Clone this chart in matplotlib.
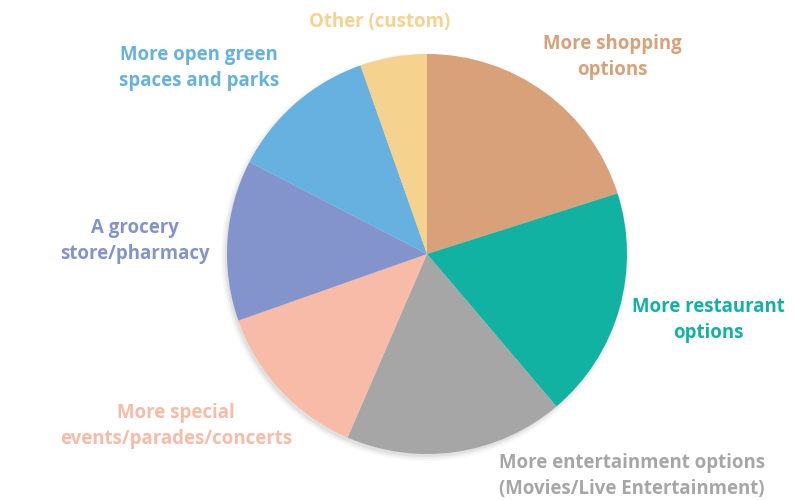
import matplotlib.pyplot as plt
from matplotlib.patches import Circle

labels = ["More shopping\noptions", "More restaurant\noptions",
          "More entertainment options\n(Movies/Live Entertainment)",
          "More special\nevents/parades/concerts", "A grocery\nstore/pharmacy",
          "More open green\nspaces and parks", "Other (custom)"]
values = [20.1, 18.7, 17.7, 13.1, 13.0, 12.0, 5.4]
colors = ["#D9A179", "#12B2A3", "#A6A6A6", "#F8BBA7", "#8394CD", "#67B1E1", "#F5D38F"]

# label centers, pixel offsets from the pie centre
label_pos = [(185, 197), (281, -66), (205, -222), (-251, -172), (-292, 13), (-228, 186), (-47, 232)]

fig = plt.figure(figsize=(8.05, 5), dpi=100)
ax = fig.add_axes([0, 0, 1, 1])

# soft shadow under the pie
for r, a in [(204, 0.05), (202, 0.08), (200, 0.12)]:
    ax.add_patch(Circle((-2, -3), r, color="gray", alpha=a, lw=0, zorder=0))

ax.pie(values, colors=colors, radius=200, startangle=90, counterclock=False,
       wedgeprops=dict(linewidth=0, zorder=1))
ax.set_xlim(-427, 378)
ax.set_ylim(-246, 254)
ax.set_aspect("equal")
ax.axis("off")

for lab, c, (x, y) in zip(labels, colors, label_pos):
    ax.text(x, y, lab, color=c, ha="center", va="center", fontsize=13.4,
            fontweight="bold", family="Open Sans", linespacing=1.42)

fig.savefig("out.png", dpi=100)
